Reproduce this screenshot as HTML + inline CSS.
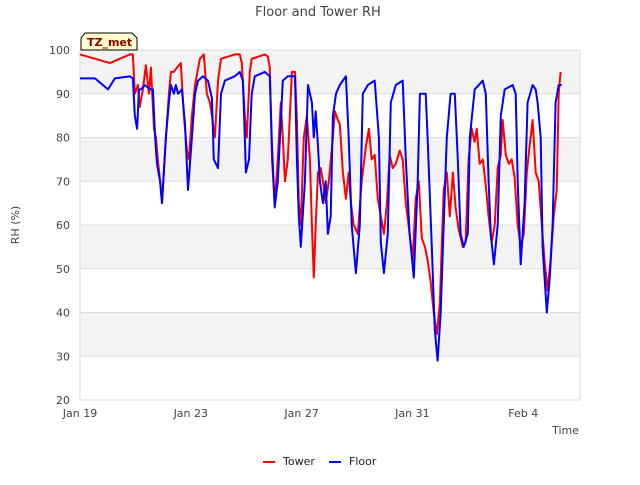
<!DOCTYPE html>
<html><head><meta charset="utf-8"><style>
body{margin:0;background:#fff;font-family:"Liberation Sans","DejaVu Sans",sans-serif}
svg text{font-family:"DejaVu Sans","Liberation Sans",sans-serif}
</style></head><body>
<svg id="chart" width="640" height="480" viewBox="0 0 640 480">
<text x="318" y="16" text-anchor="middle" font-size="13" fill="#444">Floor and Tower RH</text>
<g id="bands"></g>
<rect x="80" y="50" width="500" height="350" fill="none" stroke="#ddd"/>
<g id="yticks"></g><g id="xticks"></g>
<text transform="translate(19,225) rotate(-90)" text-anchor="middle" font-size="11" fill="#444">RH (%)</text>
<text x="579" y="434" text-anchor="end" font-size="11" fill="#444">Time</text>
<g id="series"></g>
<g>
<path d="M81,38 L85,33 L132,33 L137,38 L137,50 L81,50 Z" fill="#ffffcc" stroke="#000" stroke-width="1"/>
<text x="87" y="46" font-size="11" font-weight="bold" fill="#8b0000">TZ_met</text>
</g>
<g>
<line x1="263" y1="462" x2="275" y2="462" stroke="#f00" stroke-width="2"/>
<text x="283" y="465" font-size="11" fill="#222">Tower</text>
<line x1="329" y1="462" x2="341" y2="462" stroke="#00f" stroke-width="2"/>
<text x="349" y="465" font-size="11" fill="#222">Floor</text>
</g>
</svg>
<script>
const yTicks=[20,30,40,50,60,70,80,90,100];
const xTickDays=[0,4,8,12,16];
const xTickLabels=["Jan 19","Jan 23","Jan 27","Jan 31","Feb 4"];
const floorDays=[0,0.54,1.01,1.26,1.80,1.91,1.98,2.06,2.13,2.20,2.34,2.53,2.63,2.71,2.78,2.89,2.96,3.10,3.21,3.28,3.39,3.46,3.54,3.68,3.79,3.90,4.04,4.15,4.26,4.44,4.62,4.76,4.83,4.98,5.09,5.23,5.59,5.77,5.88,5.95,5.99,6.10,6.20,6.31,6.67,6.85,6.93,7.03,7.14,7.32,7.50,7.76,7.83,7.90,7.97,8.12,8.23,8.37,8.44,8.51,8.59,8.66,8.77,8.87,8.95,9.05,9.13,9.24,9.38,9.60,9.70,9.81,9.96,10.10,10.21,10.39,10.64,10.79,10.86,10.97,11.11,11.22,11.40,11.65,11.76,11.90,12.05,12.19,12.27,12.37,12.48,12.55,12.70,12.81,12.91,13.02,13.13,13.24,13.38,13.53,13.64,13.74,13.85,14.00,14.07,14.25,14.54,14.65,14.75,14.83,14.94,15.08,15.19,15.33,15.62,15.73,15.80,15.91,16.05,16.16,16.34,16.45,16.52,16.63,16.70,16.81,16.85,16.96,17.06,17.17,17.28,17.39];
const floorRH=[93.5,93.5,91,93.5,94,93.5,85,82,91,91,92,91,91,80,74,70,65,80,88,92,90,92,90,91,83,68,80,90,93,94,93,89,75,73,90,93,94,95,93,80,72,75,90,94,95,94,78,64,70,93,94,94,75,62,55,70,92,88,80,86,78,70,65,70,58,62,85,90,92,94,80,60,49,60,90,92,93,80,56,49,58,88,92,93,75,58,48,70,90,90,90,80,55,36,29,40,60,80,90,90,75,58,55,58,80,91,93,90,70,58,51,60,85,91,92,90,70,51,65,88,92,91,88,80,55,44,40,48,60,88,92,92];
const towerDays=[0,1.08,1.80,1.91,1.98,2.09,2.16,2.27,2.38,2.49,2.56,2.67,2.74,2.81,2.89,2.96,3.10,3.21,3.28,3.39,3.50,3.64,3.75,3.86,3.93,4.04,4.15,4.33,4.47,4.58,4.69,4.76,4.87,4.98,5.09,5.59,5.77,5.84,5.95,6.02,6.13,6.20,6.67,6.78,6.85,6.93,7.03,7.14,7.25,7.32,7.40,7.50,7.65,7.76,7.83,7.90,7.97,8.08,8.19,8.30,8.37,8.44,8.51,8.59,8.69,8.77,8.87,8.98,9.13,9.20,9.31,9.38,9.49,9.60,9.70,9.78,9.88,10.03,10.17,10.32,10.43,10.53,10.64,10.75,10.86,10.97,11.08,11.18,11.29,11.40,11.54,11.65,11.76,11.90,12.01,12.12,12.23,12.34,12.45,12.55,12.66,12.77,12.88,12.99,13.13,13.24,13.35,13.46,13.56,13.67,13.82,13.92,14.03,14.14,14.25,14.32,14.43,14.54,14.65,14.75,14.86,14.97,15.08,15.19,15.26,15.37,15.48,15.58,15.69,15.80,15.91,16.02,16.13,16.23,16.34,16.45,16.56,16.67,16.77,16.88,16.99,17.10,17.21,17.28,17.35];
const towerRH=[99,97,99,99,90,92,87,91,96.5,90,96,82,80,75,70,65,80,90,95,95,96,97,85,77,75,85,92,98,99,90,88,85,80,93,98,99,99,97,85,80,95,98,99,98.5,96,75,65,75,88,80,70,75,95,95,84,65,60,80,85,75,60,48,60,72,73,70,65,70,80,86,84,83,72,66,72,65,60,58,70,78,82,75,76,66,62,58,65,76,73,74,77,75,65,58,52,66,70,57,55,52,47,40,35,42,68,72,62,72,64,59,55,56,75,82,79,82,74,75,69,62,56,60,73,76,84,76,74,75,71,60,55,58,72,78,84,72,70,60,52,45,52,62,68,90,95];

const X0=80,X1=580,Y0=400,Y1=50,DMAX=18.05;
const xs=d=>X0+d*(X1-X0)/DMAX;
const ys=v=>Y0-(v-20)*(Y0-Y1)/80;
const NS="http://www.w3.org/2000/svg";
function mk(t,a,p){const e=document.createElementNS(NS,t);for(const k in a)e.setAttribute(k,a[k]);p.appendChild(e);return e;}
const bands=document.getElementById('bands');
for(let v=30;v<100;v+=20){
  const r=mk('rect',{x:X0,y:ys(v+10),width:X1-X0,height:ys(v)-ys(v+10),fill:'#f3f3f3'},bands);
  
  
}
const yt=document.getElementById('yticks');
yTicks.forEach(v=>{
  const l=mk('line',{x1:X0,x2:X1,y1:ys(v),y2:ys(v),stroke:'#ddd'},yt);
  
  
  const t=mk('text',{x:X0-10,y:ys(v)+4,'text-anchor':'end','font-size':11,fill:'#444'},yt);
  
  
  t.textContent=v;
});
const xt=document.getElementById('xticks');
xTickDays.forEach((d,i)=>{
  const t=mk('text',{x:xs(d),y:417,'text-anchor':'middle','font-size':11,fill:'#444'},xt);
  
  
  t.textContent=xTickLabels[i];
});
const sg=document.getElementById('series');
function line(days,vals,color,name){
  const p=mk('path',{d:days.map((d,i)=>(i?'L':'M')+xs(d).toFixed(1)+','+ys(vals[i]).toFixed(1)).join(''),fill:'none',stroke:color,'stroke-width':2,'stroke-linejoin':'round'},sg);
  
  
}
line(towerDays,towerRH,'#f00','tower-line');
line(floorDays,floorRH,'#00f','floor-line');
</script>
</body></html>
